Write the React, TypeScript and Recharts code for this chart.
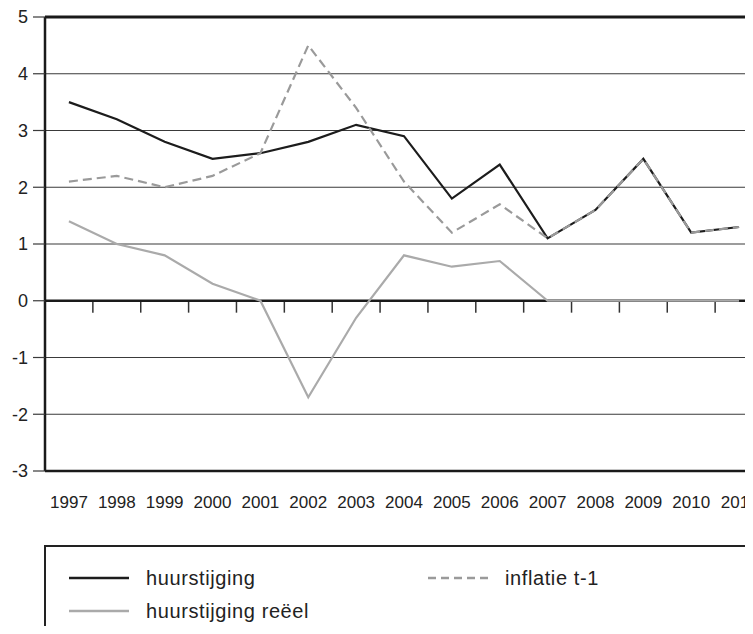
import React from 'react'
import { CartesianGrid, Line, LineChart, ReferenceLine, XAxis, YAxis } from 'recharts'

const years = [1997, 1998, 1999, 2000, 2001, 2002, 2003, 2004, 2005, 2006, 2007, 2008, 2009, 2010, 2011]
const huurstijging = [3.5, 3.2, 2.8, 2.5, 2.6, 2.8, 3.1, 2.9, 1.8, 2.4, 1.1, 1.6, 2.5, 1.2, 1.3]
const inflatie = [2.1, 2.2, 2.0, 2.2, 2.6, 4.5, 3.4, 2.1, 1.2, 1.7, 1.1, 1.6, 2.5, 1.2, 1.3]
const huurstijgingReeel = [1.4, 1.0, 0.8, 0.3, 0.0, -1.7, -0.3, 0.8, 0.6, 0.7, 0, 0, 0, 0, 0]
const yTicks = [-3, -2, -1, 0, 1, 2, 3, 4, 5]

const data = years.map((year, i) => ({
  year,
  huur: huurstijging[i],
  inflatie: inflatie[i],
  reeel: huurstijgingReeel[i],
}))

// tick marks on the zero line sit between the years
const betweenYears = years.slice(0, -1).map((y) => y + 0.5)

const FONT = '"Liberation Sans", Arial, Helvetica, sans-serif'

const legendItems = [
  { label: 'huurstijging', color: '#1c1c1c', dash: undefined, left: 23, top: 31 },
  { label: 'inflatie t-1', color: '#9a9a9a', dash: '8 5', left: 382, top: 31 },
  { label: 'huurstijging reëel', color: '#aaaaaa', dash: undefined, left: 23, top: 64 },
]

export default function App() {
  return (
    <div style={{ position: 'relative', width: 745, height: 618, overflow: 'hidden', fontFamily: FONT }}>
      <LineChart
        width={745}
        height={618}
        data={data}
        margin={{ top: 9, right: -10, left: 0, bottom: 125 }}
      >
        <CartesianGrid horizontal vertical={false} stroke="#3a3a3a" strokeWidth={1.2} />
        <XAxis
          dataKey="year"
          type="number"
          domain={[1996.5, 2011.5]}
          ticks={years}
          interval={0}
          axisLine={{ stroke: '#1a1a1a', strokeWidth: 2.5 }}
          tickLine={false}
          tickMargin={19}
          height={30}
          tick={{ fontSize: 17, fill: '#222', fontFamily: FONT }}
        />
        <YAxis
          type="number"
          domain={[-3, 5]}
          ticks={yTicks}
          interval={0}
          width={37}
          axisLine={{ stroke: '#1a1a1a', strokeWidth: 2.5 }}
          tickLine={{ stroke: '#3a3a3a', strokeWidth: 1.2 }}
          tickSize={12}
          tickMargin={5}
          tick={{ fontSize: 18, fill: '#222', fontFamily: FONT }}
        />
        <ReferenceLine y={5} stroke="#1a1a1a" strokeWidth={3} />
        {betweenYears.map((x) => (
          <ReferenceLine
            key={x}
            segment={[{ x, y: 0 }, { x, y: -0.21 }]}
            stroke="#333"
            strokeWidth={1.5}
          />
        ))}
        <ReferenceLine y={0} stroke="#1a1a1a" strokeWidth={2.5} />
        <Line
          dataKey="huur"
          type="linear"
          stroke="#1c1c1c"
          strokeWidth={2.2}
          dot={false}
          isAnimationActive={false}
        />
        <Line
          dataKey="inflatie"
          type="linear"
          stroke="#9a9a9a"
          strokeWidth={2.2}
          strokeDasharray="9 5"
          dot={false}
          isAnimationActive={false}
        />
        <Line
          dataKey="reeel"
          type="linear"
          stroke="#aaaaaa"
          strokeWidth={2.2}
          dot={false}
          isAnimationActive={false}
        />
      </LineChart>
      <div
        style={{
          position: 'absolute',
          left: 36,
          top: 537,
          width: 780,
          height: 120,
          border: '2px solid #222',
          boxSizing: 'border-box',
        }}
      >
        {legendItems.map((item) => (
          <div
            key={item.label}
            style={{
              position: 'absolute',
              left: item.left,
              top: item.top - 13,
              height: 26,
              display: 'flex',
              alignItems: 'center',
              whiteSpace: 'nowrap',
            }}
          >
            <svg width={60} height={4} style={{ marginRight: 17 }}>
              <line
                x1={0}
                y1={2}
                x2={60}
                y2={2}
                stroke={item.color}
                strokeWidth={2.5}
                strokeDasharray={item.dash}
              />
            </svg>
            <span style={{ fontSize: 20, letterSpacing: 0.6, color: '#222' }}>{item.label}</span>
          </div>
        ))}
      </div>
    </div>
  )
}
